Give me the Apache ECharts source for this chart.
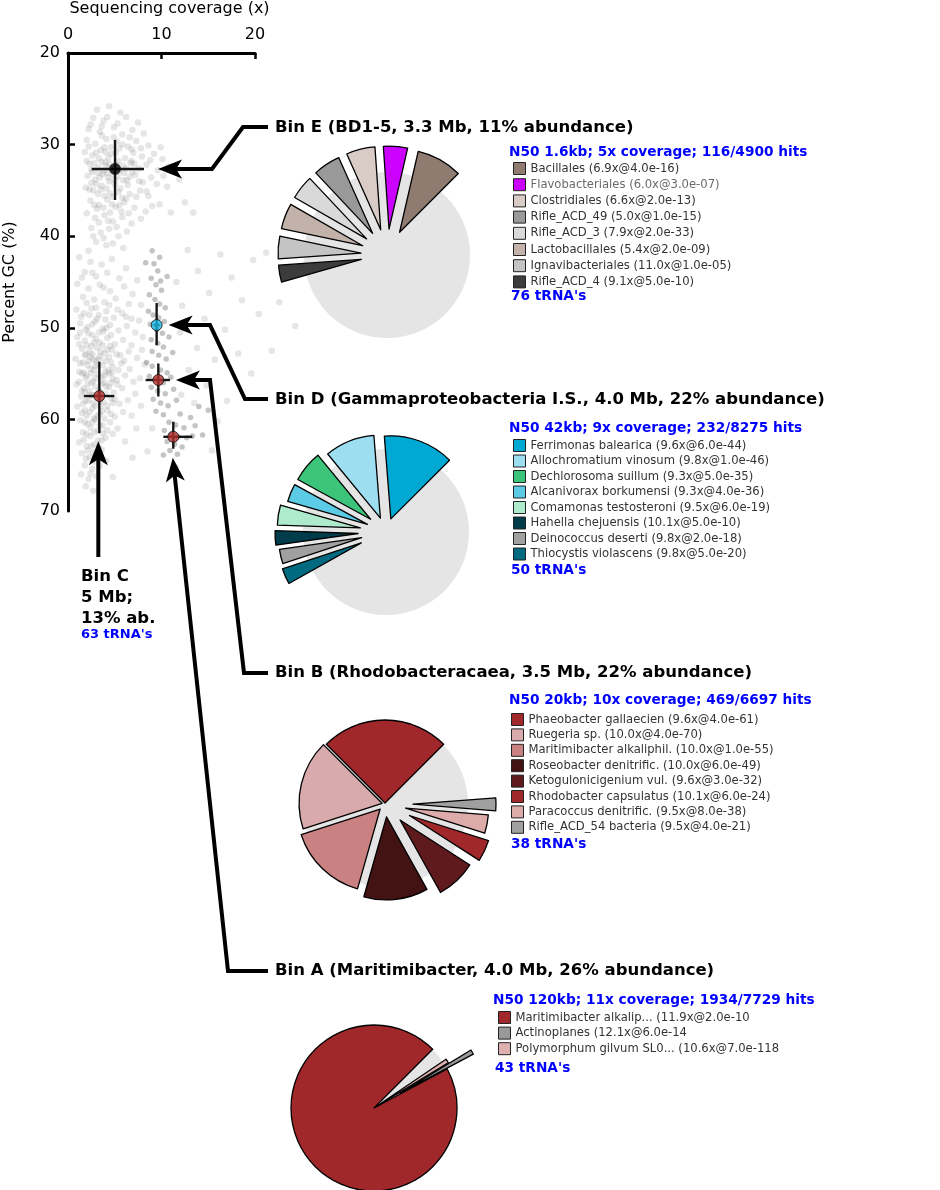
<!DOCTYPE html>
<html><head><meta charset="utf-8">
<script src="https://cdn.jsdelivr.net/npm/echarts@6/dist/echarts.min.js"></script>
<style>html,body{margin:0;padding:0;background:#fff}#c{width:940px;height:1190px}</style>
</head><body><div id="c"></div>
<script>
// ---------------- DATA ----------------
// contig cloud (coverage x, percent GC)
const cloudLight = [
 [3.1,26.2],[4.4,25.8],[5.6,26.5],[2.7,27.1],[3.8,27.4],[6.2,27.0],[7.5,27.6],[2.2,28.3],[3.4,28.6],[4.9,28.1],[5.8,28.9],[6.9,28.4],[8.1,28.8],
 [2.0,29.5],[2.9,29.9],[4.1,29.4],[5.2,29.7],[6.4,30.2],[7.3,29.6],[8.6,30.1],[1.8,30.8],[2.6,31.2],[3.5,30.6],[4.6,31.0],[5.5,30.4],[6.1,31.5],
 [7.0,30.9],[7.9,31.3],[9.2,31.0],[10.1,31.6],[2.3,32.1],[3.2,32.5],[4.0,31.9],[4.8,32.7],[5.9,32.3],[6.7,32.0],[7.6,32.6],[8.4,32.2],[9.6,32.8],
 [10.8,32.4],[11.5,32.9],[2.1,33.4],[2.9,33.8],[3.7,33.2],[4.4,34.0],[5.3,33.5],[6.3,33.9],[7.2,33.3],[8.0,34.1],[8.9,33.6],[10.2,33.4],[1.9,34.7],
 [2.7,35.0],[3.6,34.5],[4.5,35.3],[5.6,34.8],[6.6,35.4],[7.7,35.0],[8.6,35.6],[2.4,36.1],[3.3,36.6],[4.2,36.0],[5.1,36.8],[6.0,36.3],[7.1,36.9],
 [8.3,37.3],[2.0,37.5],[2.9,38.0],[3.9,37.7],[4.8,38.4],[5.8,37.9],[6.8,38.6],[9.0,36.7],[2.5,39.1],[3.5,39.6],[4.4,39.2],[5.4,40.0],[6.3,39.5],
 [3.0,40.6],[4.1,41.0],[2.2,41.6],[3.8,32.9],[4.3,33.6],[5.0,34.3],[3.0,34.3],[5.4,31.8],[4.6,30.3],[3.3,31.5],[6.0,33.1],[2.6,33.0],[5.8,35.8],
 [3.9,35.6],[4.9,29.2],[6.8,31.8],[3.6,29.0],[3.2,33.1],[4.1,32.4],[4.8,33.2],[5.5,32.9],[3.5,34.9],[4.3,31.4],[5.1,30.9],[2.8,32.0],[6.4,34.4],
 [3.9,30.3],[4.7,36.5],[5.7,37.3],[3.1,37.0],[2.5,34.2],[6.9,33.0],[9.8,36.5],[11.0,37.4],[12.5,36.3],[13.4,37.4],
 [2.4,27.8],[3.6,28.0],[4.2,27.0],[5.3,27.7],[6.6,29.2],[7.8,30.4],[2.2,30.2],[3.0,30.9],[4.0,30.8],[5.8,30.0],[6.8,30.5],[2.0,31.8],[3.6,31.9],
 [4.4,32.1],[5.2,32.2],[6.2,32.6],[7.1,32.1],[8.8,31.7],[2.5,32.7],[3.4,33.6],[4.2,33.1],[5.0,33.8],[5.9,33.9],[6.6,33.5],[7.6,34.0],[9.5,34.3],
 [2.3,34.9],[3.2,35.4],[4.1,34.8],[4.8,35.7],[5.4,35.2],[6.2,35.9],[7.3,35.7],[2.8,36.6],[3.8,36.9],[4.5,37.4],[5.5,36.6],[6.5,37.5],[7.8,38.1],
 [3.3,38.5],[4.3,38.3],[5.2,39.0],[2.7,40.0],[3.8,40.2],[4.8,40.8],[5.9,41.3],[10.6,34.6],[11.9,33.8],[9.9,30.3],[8.4,35.1],
 [1.2,42.3],[2.4,42.8],[3.6,43.1],[4.7,42.5],[1.8,43.9],[3.0,44.4],[4.2,44.0],[5.5,44.6],[1.0,45.2],[2.2,45.7],[3.4,45.3],[4.5,46.0],[6.0,45.5],
 [1.6,46.6],[2.8,46.9],[3.9,47.2],[5.1,46.8],[6.5,47.4],[0.9,48.0],[1.7,48.4],[2.5,47.9],[3.3,48.6],[4.1,48.2],[4.9,48.9],[5.8,48.4],[6.8,49.0],
 [1.3,49.5],[2.1,49.9],[2.9,49.3],[3.7,50.1],[4.5,49.7],[5.4,50.3],[6.3,49.8],[7.2,50.5],[1.0,51.0],[1.8,51.4],[2.6,50.8],[3.4,51.6],[4.2,51.1],
 [5.0,51.8],[5.9,51.3],[6.8,51.9],[1.5,52.3],[2.3,52.6],[3.1,52.2],[3.9,52.8],[4.7,52.4],[5.6,53.0],[6.5,52.6],[7.4,53.3],[0.8,53.4],[1.6,53.8],
 [2.4,53.2],[3.2,54.0],[4.0,53.6],[4.8,54.3],[5.7,53.9],[6.6,54.5],[1.2,54.8],[2.0,55.2],[2.8,54.6],[3.6,55.4],[4.4,55.0],[5.2,55.7],[6.1,55.2],
 [7.0,55.9],[0.9,56.2],[1.7,56.6],[2.5,56.0],[3.3,56.8],[4.1,56.4],[4.9,57.1],[5.8,56.6],[1.4,57.5],[2.2,57.9],[3.0,57.3],[3.8,58.1],[4.6,57.7],
 [5.5,58.3],[6.4,57.9],[2.7,55.8],[3.4,53.1],[2.1,54.1],[3.9,56.0],[2.9,58.5],[1.9,55.5],[3.5,57.0],[2.5,52.0],[4.3,54.6],[3.0,53.6],[2.3,56.9],
 [4.6,56.0],[1.0,58.6],[1.8,59.0],[2.6,58.8],[3.4,59.4],[4.2,59.0],[5.0,59.7],[5.9,59.2],[1.3,60.1],[2.1,60.5],[2.9,60.0],[3.7,60.7],[4.5,60.3],
 [5.3,61.0],[1.6,61.4],[2.4,61.8],[3.2,61.2],[4.0,62.0],[4.8,61.6],[1.2,62.5],[2.0,62.9],[2.8,62.7],[3.6,63.3],[1.5,63.7],[2.3,64.1],[3.1,63.9],
 [4.1,64.5],[1.8,65.0],[2.6,65.4],[3.4,65.1],[1.4,66.0],[2.2,66.5],[3.0,66.2],[1.9,67.3],[2.7,67.8],
 [2.2,50.6],[3.0,51.2],[3.8,50.4],[1.9,52.9],[2.7,53.5],[3.5,52.6],[4.4,53.2],[1.5,55.0],[2.4,54.5],[3.2,55.1],[4.0,54.8],[4.8,55.6],[1.8,57.0],
 [2.6,57.4],[3.4,58.0],[4.2,58.5],[2.0,59.6],[2.8,59.9],[3.6,59.1],[2.4,60.9],[3.2,62.3],[1.6,58.3],[5.2,52.9],[5.0,57.8],[3.7,61.5],[2.9,64.6],
 [2.1,63.4],[1.3,50.5],[4.6,50.8],[6.0,53.6],
 [1.4,48.8],[2.3,48.6],[3.1,49.0],[4.0,49.1],[1.9,50.2],[2.6,49.6],[3.3,50.5],[4.1,50.0],[1.2,51.8],[2.0,51.9],[2.8,51.6],[3.7,51.9],[4.5,52.0],
 [1.8,53.0],[2.6,52.9],[3.3,53.4],[4.2,52.4],[1.3,53.9],[2.2,53.6],[2.9,54.2],[3.7,54.1],[4.6,53.8],[5.4,54.6],[1.7,54.9],[2.5,55.0],[3.0,55.5],
 [3.9,55.2],[4.7,54.9],[1.2,55.9],[2.1,56.2],[2.9,56.4],[3.6,56.1],[4.4,56.5],[5.3,56.2],[1.5,56.9],[2.4,57.3],[3.2,57.6],[4.0,57.2],[4.8,58.2],
 [1.9,58.0],[2.7,58.2],[3.5,58.6],[1.5,59.3],[2.3,59.2],[3.1,59.6],[3.9,59.9],[4.6,59.4],[1.8,60.3],[2.6,60.3],[3.4,60.6],[4.2,61.2],[2.0,61.6],
 [2.8,61.4],[3.6,62.3],[1.7,62.2],[2.5,62.9],[3.3,63.0],[1.9,64.3],[2.7,63.6],[2.4,65.9],
 [1.5,44.5],[2.6,44.0],[3.8,45.6],[2.0,47.3],[3.0,47.8],[4.4,47.5],[5.3,48.0],[6.2,48.8],
 [6.2,43.5],[7.4,44.8],[6.9,46.3],[7.8,47.5],[7.6,49.2],[8.0,51.0],[7.9,52.4],[8.2,54.0],[7.7,55.5],[7.2,57.2],[7.8,58.5],[6.8,59.6],[7.3,61.0],[6.1,62.4],
 [12.8,41.5],[16.3,42.0],[19.8,42.6],[13.9,43.8],[17.5,44.5],[21.2,41.8],[23.0,44.3],[11.6,45.0],[15.1,46.2],[18.6,47.0],[12.2,47.6],[14.6,49.0],
 [16.8,50.2],[20.4,48.5],[22.6,47.2],[24.3,49.8],[12.0,50.5],[13.8,52.2],[15.7,53.5],[18.2,52.8],[12.9,54.6],[14.8,56.3],[17.0,58.0],[13.5,58.2],
 [16.0,60.2],[12.1,57.3],[19.6,55.0],[15.4,63.4],[11.5,65.2],[9.0,61.0],[8.5,63.5],[6.9,64.2],[4.8,66.3],[26.1,43.5],[27.5,47.5],[21.8,52.5]
];
const cloudDark = [
 [9.0,41.6],[9.8,42.3],[8.3,42.9],[10.6,44.4],[9.9,44.9],
 [9.2,43.0],[9.6,43.8],[8.9,44.6],[9.4,45.3],[10.0,45.9],[8.7,46.4],[9.3,46.9],[9.8,47.4],[10.4,47.8],[8.6,48.2],[9.1,48.6],[9.7,48.9],
 [10.3,49.3],[8.8,49.6],[9.5,50.2],[10.1,50.6],[10.8,51.0],[8.9,51.3],[9.6,51.7],[10.2,52.1],[9.0,52.6],[9.7,53.0],[10.5,53.4],[11.2,52.7],
 [8.4,53.8],[9.0,54.2],[9.9,54.6],[10.6,54.9],[8.7,55.3],[9.4,55.6],[10.2,56.0],[11.0,55.4],[8.9,56.5],[9.6,56.9],[10.4,57.2],[11.3,56.7],
 [9.1,57.8],[9.9,58.2],[10.7,58.5],[9.4,59.1],[10.2,59.5],[11.6,57.9],
 [12.0,59.4],[13.1,59.8],[10.8,60.3],[11.5,60.6],[12.4,60.9],[13.6,60.7],[10.3,61.2],[11.0,61.6],[11.8,61.9],[12.7,62.0],[13.3,61.8],[14.4,61.7],
 [10.6,62.4],[11.4,62.7],[12.2,63.0],[10.9,63.4],[11.7,63.8],[10.2,63.9],[14.0,58.6],[15.0,59.0]
];

// bin centroids with spread
const binIds      = ['A', 'B', 'C', 'D', 'E'];
const centroidCov = [11.26, 9.66, 3.35, 9.48, 5.03];
const centroidGC  = [61.9, 55.7, 57.45, 49.7, 32.66];
const covLow      = [10.2, 8.3, 1.7, 9.15, 2.53];
const covHigh     = [13.3, 10.9, 4.95, 9.8, 8.13];
const gcLow       = [60.25, 53.9, 53.7, 47.3, 29.5];
const gcHigh      = [63.2, 57.5, 61.5, 51.9, 36.05];
const centroidColor = ['#b02e2e', '#b02e2e', '#b02e2e', '#18b4e0', '#000000'];

// Bin E
const binETitle = 'Bin E (BD1-5, 3.3 Mb, 11% abundance)';
const binEHeader = 'N50 1.6kb; 5x coverage; 116/4900 hits';
const binETrna = "76 tRNA's";
const binENames = ['Bacillales','Flavobacteriales','Clostridiales','Rifle_ACD_49','Rifle_ACD_3','Lactobacillales','Ignavibacteriales','Rifle_ACD_4'];
const binELabels = ['Bacillales (6.9x@4.0e-16)','Flavobacteriales (6.0x@3.0e-07)','Clostridiales (6.6x@2.0e-13)','Rifle_ACD_49 (5.0x@1.0e-15)','Rifle_ACD_3 (7.9x@2.0e-33)','Lactobacillales (5.4x@2.0e-09)','Ignavibacteriales (11.0x@1.0e-05)','Rifle_ACD_4 (9.1x@5.0e-10)'];
const binEValues = [8.9, 4.7, 5.6, 5.3, 4.7, 5.0, 4.4, 3.3];
const binEOther = 58.1;
const binEColors = ['#8f7b70','#cc00ff','#d9ccc6','#999999','#d9d9d9','#c2b2a9','#c4c4c4','#3c3c3c'];

// Bin D
const binDTitle = 'Bin D (Gammaproteobacteria I.S., 4.0 Mb, 22% abundance)';
const binDHeader = 'N50 42kb; 9x coverage; 232/8275 hits';
const binDTrna = "50 tRNA's";
const binDNames = ['Ferrimonas balearica','Allochromatium vinosum','Dechlorosoma suillum','Alcanivorax borkumensi','Comamonas testosteroni','Hahella chejuensis','Deinococcus deserti','Thiocystis violascens'];
const binDLabels = ['Ferrimonas balearica (9.6x@6.0e-44)','Allochromatium vinosum (9.8x@1.0e-46)','Dechlorosoma suillum (9.3x@5.0e-35)','Alcanivorax borkumensi (9.3x@4.0e-36)','Comamonas testosteroni (9.5x@6.0e-19)','Hahella chejuensis (10.1x@5.0e-10)','Deinococcus deserti (9.8x@2.0e-18)','Thiocystis violascens (9.8x@5.0e-20)'];
const binDValues = [13.75, 9.7, 6.1, 3.5, 3.9, 2.8, 2.8, 3.1];
const binDOther = 54.35;
const binDColors = ['#00a9d4','#9ddff0','#3cc47a','#5ccbe6','#aeebcc','#003c4a','#a0a0a0','#006b80'];

// Bin B
const binBTitle = 'Bin B (Rhodobacteracaea, 3.5 Mb, 22% abundance)';
const binBHeader = 'N50 20kb; 10x coverage; 469/6697 hits';
const binBTrna = "38 tRNA's";
const binBNames = ['Phaeobacter gallaecien','Ruegeria sp.','Maritimibacter alkaliphil.','Roseobacter denitrific.','Ketogulonicigenium vul.','Rhodobacter capsulatus','Paracoccus denitrific.','Rifle_ACD_54 bacteria'];
const binBLabels = ['Phaeobacter gallaecien (9.6x@4.0e-61)','Ruegeria sp. (10.0x@4.0e-70)','Maritimibacter alkaliphil. (10.0x@1.0e-55)','Roseobacter denitrific. (10.0x@6.0e-49)','Ketogulonicigenium vul. (9.6x@3.0e-32)','Rhodobacter capsulatus (10.1x@6.0e-24)','Paracoccus denitrific. (9.5x@8.0e-38)','Rifle_ACD_54 bacteria (9.5x@4.0e-21)'];
const binBValues = [25.0, 17.5, 15.6, 12.5, 7.8, 4.2, 3.6, 2.5];
const binBOther = 11.3;
const binBColors = ['#a0282b','#d9aaab','#c98181','#431313','#5e1a1c','#a0282b','#deabab','#a0a0a0'];

// Bin A
const binATitle = 'Bin A (Maritimibacter, 4.0 Mb, 26% abundance)';
const binAHeader = 'N50 120kb; 11x coverage; 1934/7729 hits';
const binATrna = "43 tRNA's";
const binANames = ['Maritimibacter alkalip...','Actinoplanes','Polymorphum gilvum SL0...'];
const binALabels = ['Maritimibacter alkalip... (11.9x@2.0e-10','Actinoplanes (12.1x@6.0e-14','Polymorphum gilvum SL0... (10.6x@7.0e-118'];
const binAValues = [95.3, 0.9, 0.8];
const binAOther = 3.0;
const binAColors = ['#a0282b','#999999','#deb0b0'];

// Bin C
const binCLines = ['Bin C', '5 Mb;', '13% ab.'];
const binCTrna = "63 tRNA's";

// ---------------- CHART ----------------
const FONT = '"DejaVu Sans"';
const chart = echarts.init(document.getElementById('c'));
const R = 83;

function pieSeries(id, names, values, other, colors, offsets, center) {
  const total = values.reduce((a, b) => a + b, 0) + other;
  const out = [{
    type: 'pie', center: center, radius: [0, R], startAngle: 45, clockwise: false, silent: true,
    label: {show: false}, labelLine: {show: false}, z: 5,
    data: [{name: id + ' all', value: total, itemStyle: {color: '#e5e5e5', borderWidth: 0}}]
  }];
  let cum = 0;
  values.forEach((v, i) => {
    const mid = (45 + 360 * (cum + v / 2) / total) * Math.PI / 180;
    cum += v;
    const c = [center[0] + offsets[i] * Math.cos(mid), center[1] - offsets[i] * Math.sin(mid)];
    const data = values.map((w, j) => j === i
      ? {name: names[j], value: w, itemStyle: {color: colors[j], borderColor: '#000', borderWidth: 1.3}}
      : {name: id + '_pad_' + j, value: w, itemStyle: {color: 'rgba(0,0,0,0)', borderWidth: 0}});
    data.push({name: id + '_other', value: other, itemStyle: {color: 'rgba(0,0,0,0)', borderWidth: 0}});
    out.push({
      type: 'pie', center: c, radius: [0, R], startAngle: 45, clockwise: false, silent: true,
      label: {show: false}, labelLine: {show: false}, z: 6, data: data
    });
  });
  return out;
}

function legendFor(names, labels, left, top, gap, faded) {
  const map = {};
  names.forEach((n, i) => map[n] = labels[i]);
  return {
    data: names.map((n, i) => (faded && faded[i]) ? {name: n, textStyle: {color: '#6a6a6a'}} : {name: n}),
    left: left, top: top, orient: 'vertical', icon: 'rect', itemWidth: 12, itemHeight: 12, itemGap: gap,
    selectedMode: false, padding: 0,
    itemStyle: {borderColor: '#222', borderWidth: 1},
    formatter: n => map[n],
    textStyle: {fontFamily: FONT, fontSize: 11.6, color: '#333', lineHeight: 12}
  };
}

const series = [
  {type: 'scatter', data: cloudLight, symbolSize: 6.5, clip: false, silent: true, z: 1,
   itemStyle: {color: 'rgba(125,125,125,0.24)'}},
  {type: 'scatter', data: cloudDark, symbolSize: 5.5, clip: false, silent: true, z: 1,
   itemStyle: {color: 'rgba(50,50,50,0.36)'}},
  {type: 'custom', clip: false, silent: true, z: 3,
   data: binIds.map((b, i) => [centroidCov[i], centroidGC[i], covLow[i], covHigh[i], gcLow[i], gcHigh[i]]),
   encode: {x: 0, y: 1},
   renderItem: function (params, api) {
     const x = api.value(0), y = api.value(1);
     const a = api.coord([api.value(2), y]), b = api.coord([api.value(3), y]);
     const c = api.coord([x, api.value(4)]), d = api.coord([x, api.value(5)]);
     const st = {stroke: '#161616', lineWidth: 2.4};
     return {type: 'group', children: [
       {type: 'line', shape: {x1: a[0], y1: a[1], x2: b[0], y2: b[1]}, style: st},
       {type: 'line', shape: {x1: c[0], y1: c[1], x2: d[0], y2: d[1]}, style: st}
     ]};
   }},
  {type: 'scatter', silent: true, z: 4, symbolSize: 11, clip: false,
   itemStyle: {borderColor: '#111', borderWidth: 1},
   data: binIds.map((b, i) => ({value: [centroidCov[i], centroidGC[i]], itemStyle: {color: centroidColor[i]}}))}
];

series.push(...pieSeries('E', binENames, binEValues, binEOther, binEColors, [26,26,26,26,26,26,26,26], [387, 255]));
series.push(...pieSeries('D', binDNames, binDValues, binDOther, binDColors, [14,15,20,20,26,28,25,27], [386, 532]));
series.push(...pieSeries('B', binBNames, binBValues, binBOther, binBColors, [1,3,7,13,22,27,21,28], [385, 804]));
series.push(...pieSeries('A', binANames, binAValues, binAOther, binAColors, [0,30,4], [374, 1108]));

const axisText = {fontFamily: FONT, fontSize: 16, color: '#000'};
chart.setOption({
  animation: false,
  backgroundColor: '#fff',
  textStyle: {fontFamily: FONT},
  grid: {left: 68, top: 53, width: 187, height: 458, containLabel: false},
  xAxis: {
    type: 'value', position: 'top', min: 0, max: 20, interval: 10,
    axisLine: {lineStyle: {color: '#000', width: 3}},
    axisTick: {inside: true, length: 6, lineStyle: {color: '#000', width: 2.5}, customValues: [10, 20]},
    axisLabel: Object.assign({margin: 10}, axisText),
    splitLine: {show: false},
    name: 'Sequencing coverage (x)', nameLocation: 'middle', nameGap: 36,
    nameTextStyle: Object.assign({padding: [0, 0, 0, 16]}, axisText)
  },
  yAxis: {
    type: 'value', inverse: true, min: 20, max: 70, interval: 10,
    axisLine: {lineStyle: {color: '#000', width: 3}},
    axisTick: {inside: true, length: 7, lineStyle: {color: '#000', width: 2.5}, customValues: [30, 40, 50, 60]},
    axisLabel: Object.assign({margin: 8}, axisText),
    splitLine: {show: false},
    name: 'Percent GC (%)', nameLocation: 'middle', nameGap: 50,
    nameTextStyle: axisText
  },
  legend: [
    legendFor(binENames, binELabels, 513, 162, 3.2, [false, true, false, false, false, false, false, false]),
    legendFor(binDNames, binDLabels, 513, 439, 2.5),
    legendFor(binBNames, binBLabels, 511, 713, 2.4),
    legendFor(binANames, binALabels, 498, 1011, 2.6)
  ],
  series: series
});

// ---------------- ANNOTATIONS ----------------
const px = i => chart.convertToPixel({gridIndex: 0}, [centroidCov[i], centroidGC[i]]);
const pxv = (cov, gc) => chart.convertToPixel({gridIndex: 0}, [cov, gc]);
const g = [];
function txt(s, x, y, size, color, bold) {
  g.push({type: 'text', x: x, y: y, z: 20, silent: true,
    style: {text: s, fill: color, fontFamily: 'DejaVu Sans', fontSize: size, fontWeight: bold ? 'bold' : 'normal',
      align: 'left', verticalAlign: 'middle'}});
}
function arrow(points) {
  const n = points.length;
  const tip = points[n - 1], prev = points[n - 2];
  const dx = tip[0] - prev[0], dy = tip[1] - prev[1];
  const L = Math.hypot(dx, dy), ux = dx / L, uy = dy / L;
  const HL = 24, HW = 9.5, NOTCH = 6;
  const base = [tip[0] - ux * HL, tip[1] - uy * HL];
  const b1 = [base[0] - uy * HW, base[1] + ux * HW];
  const b2 = [base[0] + uy * HW, base[1] - ux * HW];
  const notch = [tip[0] - ux * (HL - NOTCH), tip[1] - uy * (HL - NOTCH)];
  const line = points.slice(0, n - 1).concat([[tip[0] - ux * (HL - NOTCH - 1), tip[1] - uy * (HL - NOTCH - 1)]]);
  g.push({type: 'polyline', z: 15, silent: true, shape: {points: line},
    style: {stroke: '#000', lineWidth: 4, fill: null, lineJoin: 'miter'}});
  g.push({type: 'polygon', z: 16, silent: true, shape: {points: [tip, b1, notch, b2]}, style: {fill: '#000'}});
}

// indices: 0 A, 1 B, 2 C, 3 D, 4 E
const pE = px(4), pD = px(3), pB = px(1), pA = px(0), pC = px(2);
const eHi = pxv(covHigh[4], centroidGC[4]);
const bHi = pxv(covHigh[1], centroidGC[1]);
const aLo = pxv(centroidCov[0], gcHigh[0]);
const cLo = pxv(centroidCov[2], gcHigh[2]);

arrow([[268, 127], [243, 127], [212, pE[1]], [eHi[0] + 14, pE[1]]]);
arrow([[268, 399], [245, 399], [210, pD[1]], [pD[0] + 12, pD[1]]]);
arrow([[268, 673], [244, 673], [210, pB[1]], [bHi[0] + 6, pB[1]]]);
arrow([[268, 971], [228, 971], [pA[0] - 0.5, aLo[1] + 9]]);
arrow([[pC[0] - 1, 557], [pC[0] - 1, cLo[1] + 8]]);

const TS = 16.5;
txt(binETitle, 275, 128, TS, '#000', true);
txt(binEHeader, 509, 152, 13.7, '#0000ff', true);
txt(binETrna, 511, 296, 13.7, '#0000ff', true);
txt(binDTitle, 275, 400, TS, '#000', true);
txt(binDHeader, 509, 428, 13.7, '#0000ff', true);
txt(binDTrna, 511, 570, 13.7, '#0000ff', true);
txt(binBTitle, 275, 673, TS, '#000', true);
txt(binBHeader, 509, 700, 13.7, '#0000ff', true);
txt(binBTrna, 511, 844, 13.7, '#0000ff', true);
txt(binATitle, 275, 971, TS, '#000', true);
txt(binAHeader, 493, 1000, 13.7, '#0000ff', true);
txt(binATrna, 495, 1068, 13.7, '#0000ff', true);
binCLines.forEach((s, i) => txt(s, 81, 577 + i * 21, TS, '#000', true));
txt(binCTrna, 81, 635, 13, '#0000ff', true);

chart.setOption({graphic: g});
</script></body></html>
